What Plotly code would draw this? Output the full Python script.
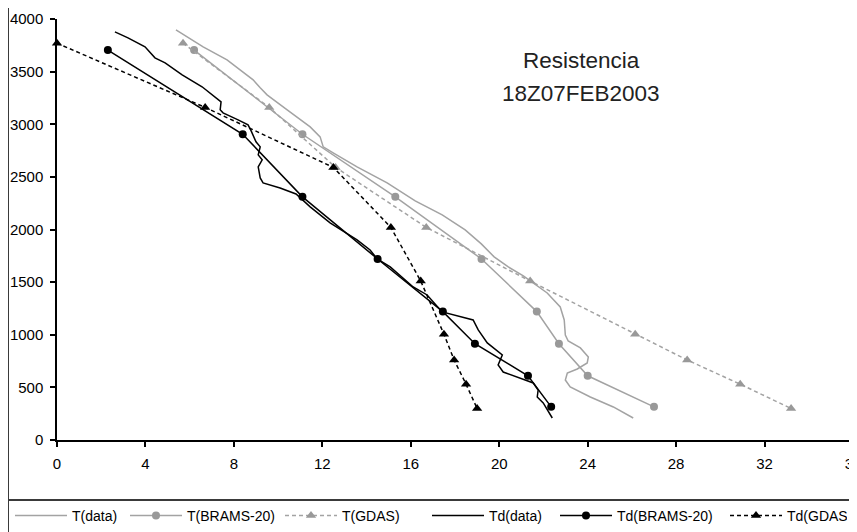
import plotly.graph_objects as go

# Sondeo observado (temperatura y punto de rocio) - altura en metros
t_obs_temp = [5.38, 6.61, 7.69, 8.87, 9.19, 9.50, 10.41, 11.45, 11.90, 12.04, 12.49, 13.57,
              14.93, 15.66, 16.20, 17.42, 18.46, 19.19, 19.77, 20.41, 21.09, 22.17, 22.76,
              22.94, 22.99, 23.12, 23.67, 24.03, 23.98, 23.53, 23.08, 22.99, 23.21, 24.12,
              25.16, 26.06]
t_obs_alt = [3897, 3736, 3612, 3422, 3346, 3279, 3137, 2975, 2880, 2785, 2728, 2595,
             2443, 2348, 2272, 2139, 1996, 1863, 1740, 1644, 1559, 1397, 1264,
             1141, 998, 941, 875, 789, 732, 675, 637, 570, 504, 409,
             314, 209]

td_obs_temp = [2.62, 3.21, 3.98, 4.43, 4.89, 5.66, 6.56, 7.15, 7.42, 7.38, 7.51, 8.19,
               8.64, 8.78, 9.00, 9.19, 9.10, 9.28, 9.10, 9.19, 9.32, 10.09, 10.81,
               11.45, 12.35, 13.57, 14.16, 14.48, 15.07, 16.11, 16.74, 17.42, 18.01,
               18.82, 19.05, 19.46, 20.14, 20.05, 19.95, 20.18, 20.95, 21.54, 21.76,
               21.72, 21.99, 22.40]
td_obs_alt = [3878, 3821, 3736, 3631, 3584, 3470, 3356, 3260, 3213, 3137, 3108, 3042,
              2994, 2937, 2833, 2785, 2709, 2662, 2595, 2490, 2443, 2395, 2338,
              2215, 2063, 1901, 1806, 1721, 1644, 1454, 1378, 1217, 1188,
              1141, 1046, 922, 808, 760, 713, 646, 589, 542, 475,
              409, 352, 209]

# BRAMS-20
brams_alt = [3705, 2905, 2310, 1720, 1220, 915, 610, 315]
brams_t = [6.2, 11.1, 15.3, 19.2, 21.7, 22.7, 24.0, 27.0]
brams_td = [2.3, 8.4, 11.1, 14.5, 17.45, 18.9, 21.3, 22.35]

# GDAS
gdas_alt = [3770, 3160, 2590, 2020, 1510, 1005, 760, 530, 300]
gdas_t = [5.7, 9.6, 12.6, 16.7, 21.4, 26.15, 28.5, 30.9, 33.2]
gdas_td = [0.0, 6.7, 12.5, 15.1, 16.45, 17.5, 17.96, 18.5, 19.0]

x_ticks = [0, 4, 8, 12, 16, 20, 24, 28, 32, 36]
y_ticks = [0, 500, 1000, 1500, 2000, 2500, 3000, 3500, 4000]

GRIS = '#a3a3a3'
GRIS_M = '#999999'
NEGRO = '#000000'
FUENTE = 'Liberation Sans, Arial, sans-serif'

# la pagina deja 8px de margen alrededor de la figura
OFF = 8
W, H = 857, 532
ML, MT = 57 - OFF, 19 - OFF
MR, MB = W - (853 - OFF), H - (440 - OFF)
PW, PH = W - ML - MR, H - MT - MB


def px(x, y):
    # pixel de pantalla -> coordenadas paper
    return (x - OFF - ML) / PW, (H - MB - (y - OFF)) / PH


fig = go.Figure()

fig.add_trace(go.Scatter(x=t_obs_temp, y=t_obs_alt, mode='lines', name='T(data)',
                         line=dict(color=GRIS, width=1.5), legendwidth=48))
fig.add_trace(go.Scatter(x=brams_t, y=brams_alt, mode='lines+markers', name='T(BRAMS-20)',
                         line=dict(color=GRIS, width=1.5),
                         marker=dict(symbol='circle', size=8, color=GRIS_M), legendwidth=88))
fig.add_trace(go.Scatter(x=gdas_t, y=gdas_alt, mode='lines+markers', name='T(GDAS)',
                         line=dict(color=GRIS, width=1.5, dash='4px,3px'),
                         marker=dict(symbol='triangle-up', size=9, color=GRIS_M), legendwidth=80))
fig.add_trace(go.Scatter(x=td_obs_temp, y=td_obs_alt, mode='lines', name='Td(data)',
                         line=dict(color=NEGRO, width=1.5), legendwidth=61))
fig.add_trace(go.Scatter(x=brams_td, y=brams_alt, mode='lines+markers', name='Td(BRAMS-20)',
                         line=dict(color=NEGRO, width=1.5),
                         marker=dict(symbol='circle', size=8, color=NEGRO), legendwidth=103))
fig.add_trace(go.Scatter(x=gdas_td, y=gdas_alt, mode='lines+markers', name='Td(GDAS)',
                         line=dict(color=NEGRO, width=1.5, dash='4px,3px'),
                         marker=dict(symbol='triangle-up', size=9, color=NEGRO),
                         legendwidth=55, cliponaxis=False))

ejes = dict(showgrid=False, zeroline=False, showline=True, linecolor=NEGRO, linewidth=1.5,
            ticks='outside', ticklen=5, tickwidth=1.5, tickcolor=NEGRO,
            tickfont=dict(family=FUENTE, size=15, color=NEGRO))
fig.update_xaxes(range=[0, 36], tickvals=x_ticks, ticklabelstandoff=4, **ejes)
fig.update_yaxes(range=[0, 4000], tickvals=y_ticks, ticklabelstandoff=4, **ejes)

# bordes del grafico y de la leyenda
x0, y0 = px(8, 5)
x1, y1 = px(870, 545)
_, yl = px(0, 500)
for xa, ya, xb, yb in [(x0, y0, x1, y0), (x0, y0, x0, y1), (x0, yl, x1, yl)]:
    fig.add_shape(type='line', xref='paper', yref='paper', x0=xa, y0=ya, x1=xb, y1=yb,
                  line=dict(color='#3a3a3a', width=2))

ax, ay1 = px(581, 46)
_, ay2 = px(581, 79)
fig.add_annotation(x=ax, y=ay1, xref='paper', yref='paper', text='Resistencia',
                   showarrow=False, font=dict(family=FUENTE, size=22.5, color='#222222'))
fig.add_annotation(x=ax, y=ay2, xref='paper', yref='paper', text='18Z07FEB2003',
                   showarrow=False, font=dict(family=FUENTE, size=22.5, color='#222222'))

lx, ly = px(10, 500)
fig.update_layout(
    width=W, height=H,
    margin=dict(l=ML, r=MR, t=MT, b=MB, autoexpand=False),
    plot_bgcolor='white', paper_bgcolor='white',
    font=dict(family=FUENTE, color=NEGRO),
    legend=dict(orientation='h', x=lx, xanchor='left', y=ly, yanchor='top',
                itemwidth=52, font=dict(family=FUENTE, size=14, color=NEGRO),
                bgcolor='rgba(0,0,0,0)'),
    showlegend=True,
)

fig.write_html("out.html")
